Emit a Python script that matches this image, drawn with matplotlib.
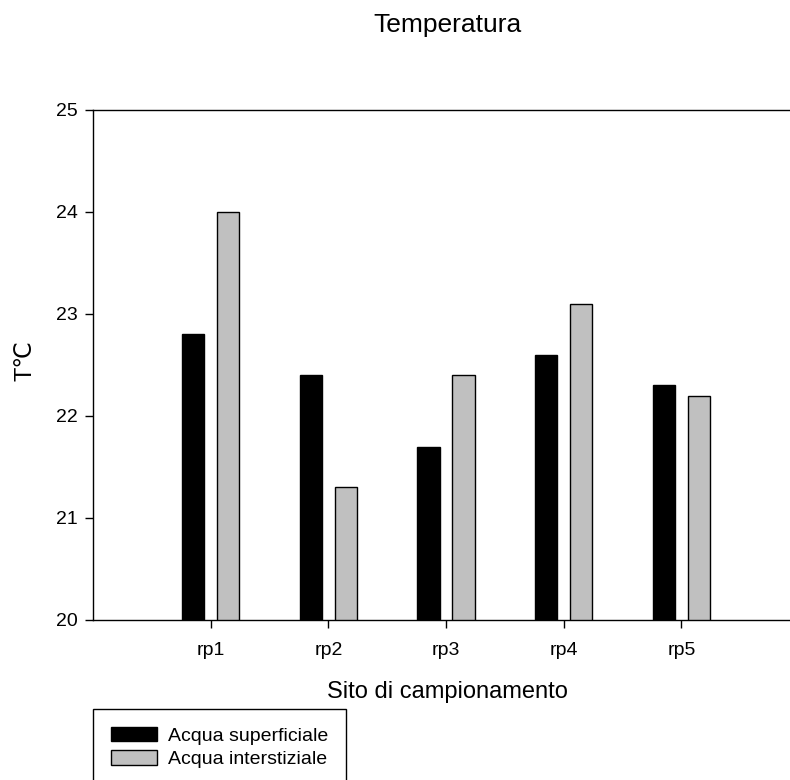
'''
Temperature of surface and interstitial water at the sampling sites
'''

import matplotlib as mpl
import matplotlib.pyplot as plt
import numpy as np
from matplotlib.patches import Patch

mpl.rcParams['font.family'] = ['Liberation Sans', 'DejaVu Sans']
mpl.rcParams['axes.linewidth'] = 1.0
mpl.rcParams['xtick.labelsize'] = 14
mpl.rcParams['ytick.labelsize'] = 14

# data
siti = ['rp1', 'rp2', 'rp3', 'rp4', 'rp5']
superficiale = [22.8, 22.4, 21.7, 22.6, 22.3]
interstiziale = [24.0, 21.3, 22.4, 23.1, 22.2]
y_ticks = [20, 21, 22, 23, 24, 25]

W, H = 790, 780
fig = plt.figure(figsize=(W / 100, H / 100), dpi=100)

# axes runs off the right edge of the figure
left, right, top, bottom = 93, 799, 110, 620
ax = fig.add_axes([left / W, 1 - bottom / H, (right - left) / W, (bottom - top) / H])

x = np.arange(1, len(siti) + 1)
bw = 0.19
ax.bar(x - 0.15, superficiale, bw, bottom=0, color='black', edgecolor='black',
       linewidth=1, label='Acqua superficiale')
ax.bar(x + 0.15, interstiziale, bw, bottom=0, color='#c0c0c0', edgecolor='black',
       linewidth=1, label='Acqua interstiziale')

ax.set_xlim(0, 6)
ax.set_ylim(20, 25)
ax.set_xticks(x)
ax.set_xticklabels(siti)
ax.set_yticks(y_ticks)
ax.tick_params(direction='out', length=5.5, width=1, pad=5.5)
ax.tick_params(axis='x', pad=10)
ax.spines['right'].set_visible(False)

# axis labels and title
fig.text(447 / W, 1 - 698 / H, 'Sito di campionamento', fontsize=17,
         ha='center', va='baseline')
fig.text(25 / W, 1 - 361 / H, 'T℃', fontsize=17, rotation=90,
         ha='center', va='center')
fig.text(448 / W, 1 - 32 / H, 'Temperatura', fontsize=19,
         ha='center', va='baseline')

# legend box, anchored below the axes and cut at the figure bottom
handles = [Patch(facecolor='black', edgecolor='black', label='Acqua superficiale'),
           Patch(facecolor='#c0c0c0', edgecolor='black', label='Acqua interstiziale')]
leg = fig.legend(handles=handles, loc='upper left',
                 bbox_to_anchor=(93 / W, 1 - 709 / H),
                 fontsize=14, frameon=True, fancybox=False,
                 edgecolor='black', framealpha=1,
                 borderpad=0.9, labelspacing=0.3, handlelength=2.37,
                 handleheight=0.77, handletextpad=0.6, borderaxespad=0)
leg.get_frame().set_linewidth(1)

fig.savefig('out.png', dpi=100)
